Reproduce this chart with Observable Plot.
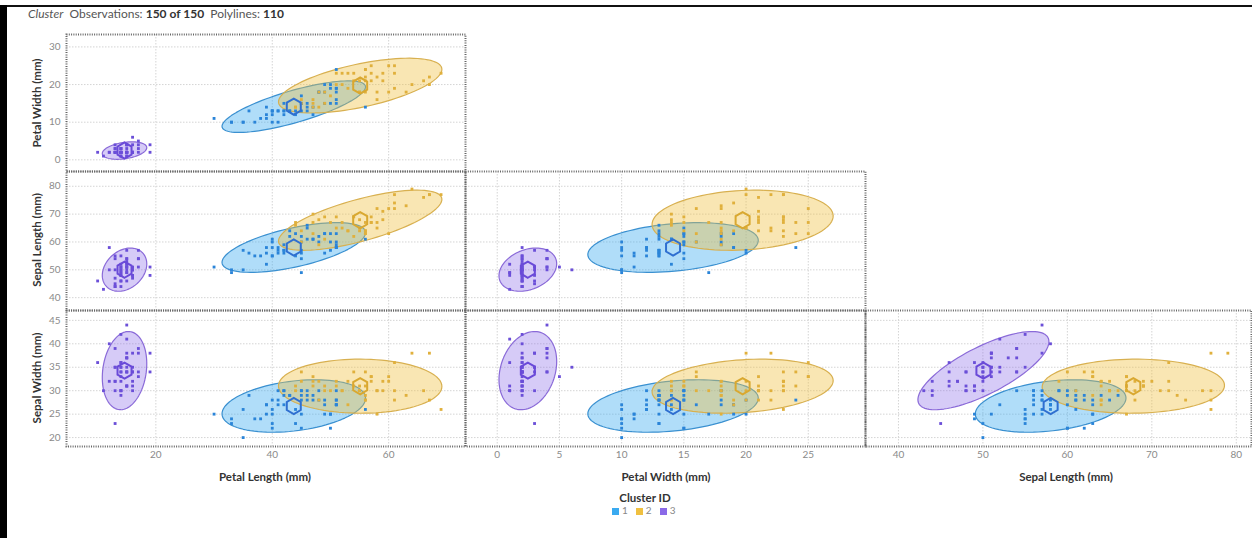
<!DOCTYPE html>
<html><head><meta charset="utf-8">
<script src="https://cdn.jsdelivr.net/npm/d3@7"></script>
<script src="https://cdn.jsdelivr.net/npm/@observablehq/plot@0.6"></script>
<style>
body{margin:0;background:#fff;font-family:Lato,"Open Sans",sans-serif;}
#root{position:relative;width:1252px;height:538px;overflow:hidden;background:#fff}
.abs{position:absolute}
.ylab{position:absolute;transform:translate(-50%,-50%) rotate(-90deg);font-weight:700;font-size:11.5px;color:#333;white-space:nowrap}
.xlab{position:absolute;transform:translate(-50%,-50%);font-weight:700;font-size:11.5px;color:#333;white-space:nowrap}
.sw{display:inline-block;width:7px;height:7px;margin:0 3px 0 8px;vertical-align:middle}
</style></head><body><div id="root"></div>
<script>
// ---- data (iris, mm) ----
const sepalLength = [51,49,47,46,50,54,46,50,44,49,54,48,48,43,58,57,54,51,57,51,54,51,46,51,48,50,50,52,52,47,48,54,52,55,49,50,55,49,44,51,50,45,44,50,51,48,51,46,53,50,
70,64,69,55,65,57,63,49,66,52,50,59,60,61,56,67,56,58,62,56,59,61,63,61,64,66,68,67,60,57,55,55,58,60,54,60,67,63,56,55,55,61,58,50,56,57,57,62,51,57,
63,58,71,63,65,76,49,73,67,72,65,64,68,57,58,64,65,77,77,60,69,56,77,63,67,72,62,61,64,72,74,79,64,63,61,77,63,64,60,69,67,69,58,68,67,67,63,65,62,59];
const sepalWidth = [35,30,32,31,36,39,34,34,29,31,37,34,30,30,40,44,39,35,38,38,34,37,36,33,34,30,34,35,34,32,31,34,41,42,31,32,35,36,30,34,35,23,32,35,38,30,38,32,37,33,
32,32,31,23,28,28,33,24,29,27,20,30,22,29,29,31,30,27,22,25,32,28,25,28,29,30,28,30,29,26,24,24,27,27,30,34,31,23,30,25,26,30,26,23,27,30,29,29,25,28,
33,27,30,29,30,30,25,29,25,36,32,27,30,25,28,32,30,38,26,22,32,28,28,27,33,32,28,30,28,30,28,38,28,28,26,30,34,31,30,31,31,31,27,32,33,30,25,30,34,30];
const petalLength = [14,14,13,15,14,17,14,15,14,15,15,16,14,11,12,15,13,14,17,15,17,15,10,17,19,16,16,15,14,16,16,15,15,14,15,12,13,14,13,15,13,13,13,16,19,14,16,14,15,14,
47,45,49,40,46,45,47,33,46,39,35,42,40,47,36,44,45,41,45,39,48,40,49,47,43,44,48,50,45,35,38,37,39,51,45,45,47,44,41,40,44,46,40,33,42,42,42,43,30,41,
60,51,59,56,58,66,45,63,58,61,51,53,55,50,51,53,55,67,69,50,57,49,67,49,57,60,48,49,56,58,61,64,56,51,56,61,56,55,48,54,56,51,51,59,57,52,50,52,54,51];
const petalWidth = [2,2,2,2,2,4,3,2,2,1,2,2,1,1,2,4,4,3,3,3,2,4,2,5,2,2,4,2,2,2,2,4,1,2,2,2,2,1,2,2,3,3,2,6,4,3,2,2,2,2,
14,15,15,13,15,13,16,10,13,14,10,15,10,14,13,14,15,10,15,11,18,13,15,12,13,14,14,17,15,10,11,10,12,16,15,16,15,13,13,13,12,14,12,10,13,12,13,13,11,13,
25,19,21,18,22,21,17,18,18,25,20,19,21,20,24,23,18,22,23,15,23,20,20,18,21,18,18,18,21,16,19,20,22,15,14,23,24,18,18,21,24,23,19,23,25,23,19,20,23,18];
const clusterId = [3,3,3,3,3,3,3,3,3,3,3,3,3,3,3,3,3,3,3,3,3,3,3,3,3,3,3,3,3,3,3,3,3,3,3,3,3,3,3,3,3,3,3,3,3,3,3,3,3,3,
2,2,2,1,1,1,2,1,1,1,1,1,1,1,1,2,1,1,1,1,2,1,1,1,1,2,2,2,1,1,1,1,1,1,1,2,2,1,1,1,1,1,1,1,1,1,1,1,1,1,
2,1,2,2,2,2,1,2,2,2,2,2,2,1,1,2,2,2,2,1,2,1,2,1,2,2,1,2,2,2,2,2,2,1,1,2,2,2,1,2,2,2,1,2,2,2,1,2,2,1];
const clusters = [1, 2, 3];
const varLabels = {PL: "Petal Length (mm)", PW: "Petal Width (mm)", SL: "Sepal Length (mm)", SW: "Sepal Width (mm)"};
const colVars = ["PL", "PW", "SL"];
const rowVars = ["PW", "SL", "SW"];
const xTicks = {PL: [20, 40, 60], PW: [0, 5, 10, 15, 20, 25], SL: [40, 50, 60, 70, 80]};
const yTicks = {PW: [0, 10, 20, 30], SL: [40, 50, 60, 70, 80], SW: [20, 25, 30, 35, 40, 45]};

// ---- styling / layout ----
const xDomain = {PL: [4.65, 73.2], PW: [-2.55, 29.6], SL: [36.1, 81.8]};
const yDomain = {PW: [-3.1, 33.3], SL: [35.4, 85.3], SW: [18.1, 47.1]};
const colBounds = [[66, 465], [465, 865], [865, 1251]];
const rowBounds = [[34, 171], [171, 310], [310, 446]];
const fillColor = {1: "#3aaaf0", 2: "#f0c040", 3: "#8a6ae8"};
const fillOp = {1: 0.4, 2: 0.4, 3: 0.35};
const lineColor = {1: "#3a90d0", 2: "#d8b050", 3: "#8a6ad8"};
const dotColor = {1: "#2a84d8", 2: "#e0b03c", 3: "#6b4fd8"};
const hexColor = {1: "#2f6fd0", 2: "#d9a830", 3: "#6a4ad8"};
const K = 2.2;

const rows = d3.range(sepalLength.length).map(i => ({
  PL: petalLength[i], PW: petalWidth[i], SL: sepalLength[i], SW: sepalWidth[i], c: clusterId[i]
}));

function ellipse(pts, xv, yv) {
  const mx = d3.mean(pts, d => d[xv]), my = d3.mean(pts, d => d[yv]);
  const n = pts.length;
  let sxx = 0, syy = 0, sxy = 0;
  for (const d of pts) { const dx = d[xv]-mx, dy = d[yv]-my; sxx += dx*dx; syy += dy*dy; sxy += dx*dy; }
  sxx /= n-1; syy /= n-1; sxy /= n-1;
  const tr = sxx+syy, det = sxx*syy - sxy*sxy;
  const disc = Math.sqrt(Math.max(0, tr*tr/4 - det));
  const l1 = tr/2 + disc, l2 = Math.max(0, tr/2 - disc);
  const th = Math.abs(sxy) < 1e-12 ? (sxx >= syy ? 0 : Math.PI/2) : Math.atan2(l1 - sxx, sxy);
  const a = K*Math.sqrt(l1), b = K*Math.sqrt(l2);
  return d3.range(0, 96).map(j => {
    const t = j/96*2*Math.PI;
    return {x: mx + a*Math.cos(t)*Math.cos(th) - b*Math.sin(t)*Math.sin(th),
            y: my + a*Math.cos(t)*Math.sin(th) + b*Math.sin(t)*Math.cos(th)};
  });
}

const root = document.getElementById("root");
function addDiv(cls, html, style) { const d = document.createElement("div"); d.className = cls; d.innerHTML = html; Object.assign(d.style, style); root.appendChild(d); return d; }

// frame decorations
addDiv("abs", "", {left: "0px", top: "5px", width: "1252px", height: "2px", background: "#111"});
addDiv("abs", "", {left: "0px", top: "5px", width: "7px", height: "533px", background: "#000"});
addDiv("abs", '<i>Cluster</i>&nbsp; Observations: <b style="color:#333">150 of 150</b>&nbsp; Polylines: <b style="color:#333">110</b>',
  {left: "28px", top: "6px", fontSize: "12px", color: "#555", whiteSpace: "nowrap"});

for (let r = 0; r < 3; r++) {
  for (let c = 0; c <= r; c++) {
    const xv = colVars[c], yv = rowVars[r];
    const [x0, x1] = colBounds[c], [y0, y1] = rowBounds[r];
    const ml = c === 0 ? 40 : 0, mb = r === 2 ? 22 : 0;
    const marks = [
      Plot.gridX(xTicks[xv], {stroke: "#d4d4d4", strokeOpacity: 1, strokeDasharray: "1.5,1.5"}),
      Plot.gridY(yTicks[yv], {stroke: "#d4d4d4", strokeOpacity: 1, strokeDasharray: "1.5,1.5"})
    ];
    for (const k of [3, 1, 2]) {
      const e = ellipse(rows.filter(d => d.c === k), xv, yv);
      marks.push(Plot.line(e, {x: "x", y: "y", curve: "linear-closed", fill: fillColor[k], fillOpacity: fillOp[k], stroke: lineColor[k], strokeWidth: 1.2}));
    }
    for (const k of clusters) {
      marks.push(Plot.dot(rows.filter(d => d.c === k), {x: xv, y: yv, symbol: "square", r: 1.6, fill: dotColor[k]}));
    }
    for (const k of clusters) {
      const pts = rows.filter(d => d.c === k);
      marks.push(Plot.dot([{x: d3.mean(pts, d => d[xv]), y: d3.mean(pts, d => d[yv])}],
        {x: "x", y: "y", symbol: "hexagon", r: 7, stroke: hexColor[k], strokeWidth: 2, fill: "none"}));
    }
    marks.push(Plot.frame({stroke: "#666", strokeWidth: 2, strokeDasharray: "1,1.3"}));
    const xOpt = {domain: xDomain[xv]}, yOpt = {domain: yDomain[yv]};
    if (c === 0) marks.push(Plot.axisY(yTicks[yv], {tickSize: 0, tickPadding: 6, label: null, fontSize: 10, fill: "#8a8a8a"}));
    else yOpt.axis = null;
    if (r === 2) marks.push(Plot.axisX(xTicks[xv], {tickSize: 0, tickPadding: 4, label: null, fontSize: 10, fill: "#8a8a8a"}));
    else xOpt.axis = null;
    const svg = Plot.plot({
      width: x1 - x0 + ml, height: y1 - y0 + mb,
      marginLeft: ml, marginRight: 0, marginTop: 0, marginBottom: mb,
      x: xOpt, y: yOpt,
      style: {background: "transparent", overflow: "visible", fontFamily: "Lato, sans-serif"},
      marks
    });
    svg.style.position = "absolute";
    svg.style.left = (x0 - ml) + "px";
    svg.style.top = y0 + "px";
    root.appendChild(svg);
  }
}

// axis titles
const rowCenters = [103, 240, 378];
rowVars.forEach((v, i) => addDiv("ylab", varLabels[v], {left: "36px", top: rowCenters[i] + "px"}));
const colCenters = [265, 666, 1066];
colVars.forEach((v, i) => addDiv("xlab", varLabels[v], {left: colCenters[i] + "px", top: "476px"}));

// legend
addDiv("xlab", "Cluster ID", {left: "645px", top: "497px"});
const leg = addDiv("abs", clusters.map(k => `<span class="sw" style="background:${fillColor[k]}"></span><span>${k}</span>`).join(""),
  {left: "604px", top: "504px", fontSize: "10px", color: "#888", whiteSpace: "nowrap"});
</script></body></html>
